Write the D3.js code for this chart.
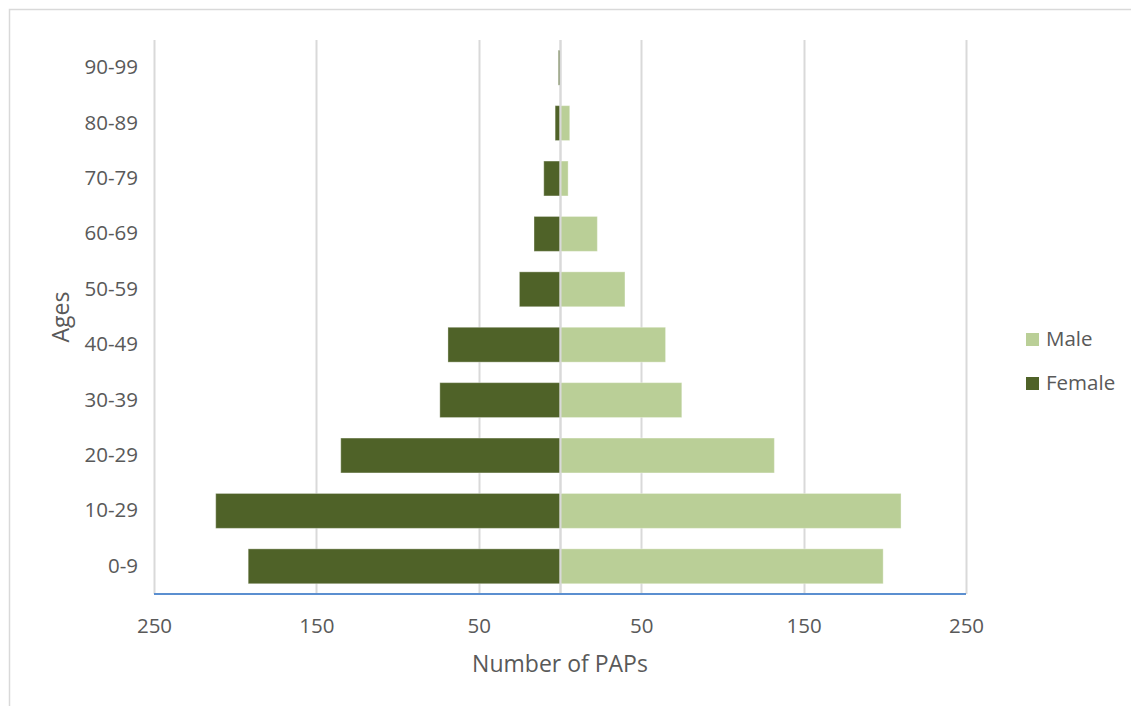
<!DOCTYPE html>
<html>
<head>
<meta charset="utf-8">
<script src="https://cdn.jsdelivr.net/npm/d3@7/dist/d3.min.js"></script>
<style>
  html, body { margin: 0; padding: 0; background: #fff; }
  svg { display: block; }
  text { font-family: "Open Sans", "Noto Sans", sans-serif; fill: #595959; }
</style>
</head>
<body>
<svg id="chart" width="1131" height="706"></svg>
<script>
// Age groups, bottom to top
const ageGroups = ["0-9", "10-29", "20-29", "30-39", "40-49", "50-59", "60-69", "70-79", "80-89", "90-99"];
const maleCounts = [199, 210, 132, 75, 65, 40, 23, 5, 6, 0];
const femaleCounts = [192, 212, 135, 74, 69, 25, 16, 10, 3, 1];
const tickValues = [-250, -150, -50, 50, 150, 250];
const seriesNames = ["Male", "Female"];
const seriesColors = { Male: "#bacf97", Female: "#4f6228" };

const svg = d3.select("#chart");

// Outer chart frame
svg.append("rect")
  .attr("x", 9.5).attr("y", 9.5)
  .attr("width", 1140).attr("height", 720)
  .attr("fill", "none").attr("stroke", "#d9d9d9").attr("stroke-width", 1.5);

const plot = { left: 154, right: 966, top: 40, bottom: 594 };

const x = d3.scaleLinear().domain([-250, 250]).range([plot.left, plot.right]);
const y = d3.scaleBand().domain(ageGroups.slice().reverse())
  .range([plot.top, plot.bottom]).paddingInner(0.37).paddingOuter(0.185);

// Vertical gridlines
const gridVals = [-250, -150, -50, 0, 50, 150, 250];
svg.append("g").selectAll("line").data(gridVals).join("line")
  .attr("x1", d => Math.round(x(d)) + 0.5).attr("x2", d => Math.round(x(d)) + 0.5)
  .attr("y1", plot.top).attr("y2", plot.bottom)
  .attr("stroke", "#d9d9d9").attr("stroke-width", 2);

// Bars: female extends left, male extends right
const rows = ageGroups.map((g, i) => ({ group: g, Male: maleCounts[i], Female: femaleCounts[i] }));

const bars = svg.append("g");
bars.selectAll("rect.female").data(rows).join("rect")
  .attr("class", "female")
  .attr("x", d => x(-d.Female))
  .attr("y", d => y(d.group))
  .attr("width", d => x(0) - x(-d.Female))
  .attr("height", y.bandwidth())
  .attr("fill", seriesColors.Female)
  .attr("stroke", d => d.Female > 0 ? "#ffffff" : "none")
  .attr("stroke-opacity", 0.35)
  .attr("stroke-width", 1);

bars.selectAll("rect.male").data(rows).join("rect")
  .attr("class", "male")
  .attr("x", x(0))
  .attr("y", d => y(d.group))
  .attr("width", d => x(d.Male) - x(0))
  .attr("height", y.bandwidth())
  .attr("fill", seriesColors.Male)
  .attr("stroke", d => d.Male > 0 ? "#ffffff" : "none")
  .attr("stroke-opacity", 0.35)
  .attr("stroke-width", 1);

// Center divider drawn over the bars
svg.append("line")
  .attr("x1", Math.round(x(0)) + 0.5).attr("x2", Math.round(x(0)) + 0.5)
  .attr("y1", plot.top).attr("y2", plot.bottom)
  .attr("stroke", "#d9d9d9").attr("stroke-width", 2);

// Horizontal axis baseline
svg.append("line")
  .attr("x1", plot.left).attr("x2", plot.right)
  .attr("y1", plot.bottom).attr("y2", plot.bottom)
  .attr("stroke", "#5b8fd0").attr("stroke-width", 2);

// X axis tick labels (absolute values)
const xAxis = d3.axisBottom(x).tickValues(tickValues)
  .tickFormat(d => Math.abs(d)).tickSize(0).tickPadding(24);
const gx = svg.append("g").attr("transform", `translate(0,${plot.bottom})`).call(xAxis);
gx.select(".domain").remove();
gx.selectAll("text").style("font-size", "20.5px").attr("fill", "#595959");

// Y axis category labels
const yAxis = d3.axisLeft(y).tickSize(0).tickPadding(16);
const gy = svg.append("g").attr("transform", `translate(${plot.left},0)`).call(yAxis);
gy.select(".domain").remove();
gy.selectAll("text").style("font-size", "20.5px").attr("fill", "#595959");

// Axis titles
svg.append("text")
  .attr("x", x(0)).attr("y", 672)
  .attr("text-anchor", "middle")
  .style("font-size", "23px")
  .text("Number of PAPs");

svg.append("text")
  .attr("transform", `translate(69,${(plot.top + plot.bottom) / 2}) rotate(-90)`)
  .attr("text-anchor", "middle")
  .style("font-size", "23px")
  .text("Ages");

// Legend
const legend = svg.append("g").attr("transform", "translate(1026,333)");
seriesNames.forEach((name, i) => {
  const g = legend.append("g").attr("transform", `translate(0,${i * 44})`);
  g.append("rect").attr("width", 13).attr("height", 13).attr("fill", seriesColors[name]);
  g.append("text").attr("x", 20).attr("y", 13).style("font-size", "20.5px").text(name);
});
</script>
</body>
</html>
